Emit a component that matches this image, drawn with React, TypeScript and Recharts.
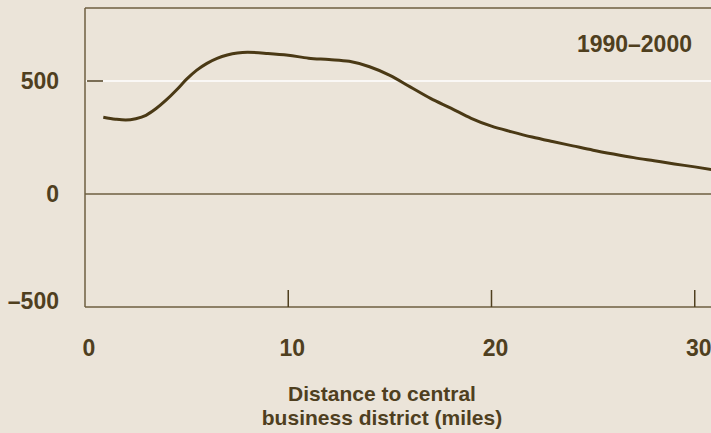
import * as React from 'react'
import { Line, LineChart, ReferenceLine, XAxis, YAxis } from 'recharts'

// distance to CBD (miles) and change over 1990–2000
const distances = [
  0.9, 1.5, 2, 2.5, 3, 3.5, 4, 4.5, 5, 5.5, 6, 6.5, 7, 7.5, 8, 9, 10, 11, 12, 13, 14, 15,
  16, 17, 18, 19, 20, 21, 22, 23, 24, 25, 26, 27, 28, 29, 30, 31,
]
const changes = [
  340, 331, 327, 333, 348, 378, 416, 460, 508, 548, 578, 600, 615, 624, 627, 622, 614, 601,
  595, 587, 563, 525, 474, 423, 380, 335, 300, 275, 252, 232, 213, 194, 177, 161, 147, 133,
  120, 106,
]
const xTicks = [0, 10, 20, 30]
const yTicks = [-500, 0, 500]
const periodLabel = '1990–2000'
const axisTitle = ['Distance to central', 'business district (miles)']

const X_MAX = 30.8
const Y_MIN = -500
const Y_MAX = 823

const BG = '#ebe4d9'
const INK = '#4f3f1f'
const AXIS = '#6e5f40'
const LINE = '#4a3915'
const FONT = '"Liberation Sans", Arial, sans-serif'

const data = distances.map((d, i) => ({ distance: d, change: changes[i] }))

function XTick({ x, y, payload }: any) {
  return (
    <g>
      {payload.value !== 0 ? (
        <line x1={x} x2={x} y1={y - 17} y2={y} stroke={INK} strokeWidth={1.5} />
      ) : null}
      <text
        x={x + 4}
        y={y + 49}
        textAnchor="middle"
        fill={INK}
        fontSize={23}
        fontWeight="bold"
        fontFamily={FONT}
      >
        {payload.value}
      </text>
    </g>
  )
}

function YTick({ x, y, payload }: any) {
  const v = payload.value
  const dy = v === Y_MIN ? 2 : 8
  return (
    <g>
      {v === 500 ? (
        <line x1={x + 2} x2={x + 18} y1={y} y2={y} stroke={INK} strokeWidth={1.5} />
      ) : null}
      <text
        x={x - 26}
        y={y + dy}
        textAnchor="end"
        fill={INK}
        fontSize={23}
        fontWeight="bold"
        fontFamily={FONT}
      >
        {v < 0 ? '–' + Math.abs(v) : v}
      </text>
    </g>
  )
}

export default function App() {
  return (
    <div
      style={{
        position: 'absolute',
        left: 0,
        top: 0,
        width: 711,
        height: 433,
        background: BG,
        overflow: 'hidden',
      }}
    >
      <LineChart
        width={711}
        height={433}
        data={data}
        margin={{ top: 8, right: 0, bottom: 0, left: 0 }}
      >
        <XAxis
          type="number"
          dataKey="distance"
          domain={[0, X_MAX]}
          ticks={xTicks}
          allowDataOverflow
          height={126}
          tickSize={0}
          tickMargin={0}
          tickLine={false}
          axisLine={{ stroke: AXIS, strokeWidth: 1.5 }}
          tick={<XTick />}
        />
        <YAxis
          type="number"
          domain={[Y_MIN, Y_MAX]}
          ticks={yTicks}
          allowDataOverflow
          width={85}
          tickSize={0}
          tickMargin={0}
          tickLine={false}
          axisLine={{ stroke: AXIS, strokeWidth: 1.5 }}
          tick={<YTick />}
        />
        <ReferenceLine y={Y_MAX} stroke={AXIS} strokeWidth={1.5} />
        <ReferenceLine y={500} stroke="#ffffff" strokeWidth={1.5} />
        <ReferenceLine y={0} stroke={AXIS} strokeWidth={1.5} />
        <Line
          type="monotone"
          dataKey="change"
          stroke={LINE}
          strokeWidth={3}
          dot={false}
          activeDot={false}
          isAnimationActive={false}
        />
      </LineChart>
      <div
        style={{
          position: 'absolute',
          right: 19,
          top: 33,
          fontFamily: FONT,
          fontWeight: 'bold',
          fontSize: 23,
          lineHeight: '23px',
          color: INK,
        }}
      >
        {periodLabel}
      </div>
      <div
        style={{
          position: 'absolute',
          left: 232,
          width: 300,
          top: 382,
          textAlign: 'center',
          fontFamily: FONT,
          fontWeight: 'bold',
          fontSize: 21,
          lineHeight: '23.5px',
          color: INK,
        }}
      >
        {axisTitle.map((t) => (
          <div key={t}>{t}</div>
        ))}
      </div>
    </div>
  )
}
